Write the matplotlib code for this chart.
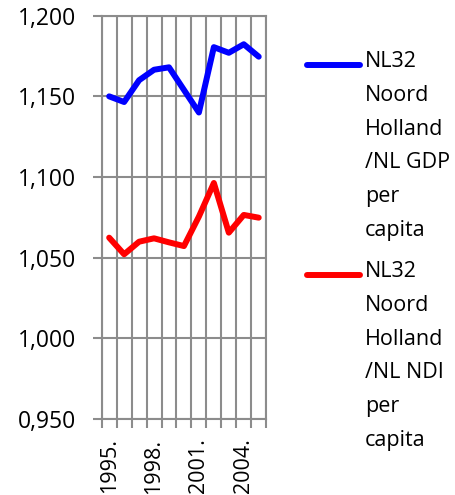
import matplotlib
matplotlib.use("Agg")
import matplotlib.pyplot as plt
from matplotlib.lines import Line2D

years = [1995, 1996, 1997, 1998, 1999, 2000, 2001, 2002, 2003, 2004, 2005]
gdp_ratio = [1.150, 1.1465, 1.160, 1.1665, 1.168, 1.154, 1.140, 1.1805, 1.177, 1.1823, 1.1746]
ndi_ratio = [1.0624, 1.0521, 1.0599, 1.062, 1.0595, 1.0572, 1.0755, 1.0963, 1.0655, 1.0765, 1.0748]
label_years = [1995, 1998, 2001, 2004]
gdp_label = "NL32\nNoord\nHolland\n/NL GDP\nper\ncapita"
ndi_label = "NL32\nNoord\nHolland\n/NL NDI\nper\ncapita"

plt.rcParams["font.family"] = ["Open Sans", "DejaVu Sans"]
plt.rcParams["font.size"] = 15.5

W, H = 455, 495
fig = plt.figure(figsize=(W / 100, H / 100), dpi=100)
ax = fig.add_axes([101.7 / W, 1 - 419 / H, 164.5 / W, (419 - 15.7) / H])

grid_c = "#8c8c8c"
ax.plot(years, gdp_ratio, color="#0000ff", lw=4.3, solid_capstyle="round", zorder=3)
ax.plot(years, ndi_ratio, color="#ff0000", lw=4.3, solid_capstyle="round", zorder=3)

ax.set_xlim(years[0] - 0.5, years[-1] + 0.5)
ax.set_ylim(0.95, 1.2)
yt = [0.95, 1.0, 1.05, 1.1, 1.15, 1.2]
ax.set_yticks(yt)
ax.set_yticklabels([f"{v:.3f}".replace(".", ",") for v in yt], fontsize=16.5)

ax.set_xticks([y - 0.5 for y in years] + [years[-1] + 0.5])
ax.set_xticklabels([])
ax.set_xticks(label_years, minor=True)
ax.set_xticklabels([f"{y}." for y in label_years], minor=True, rotation=90, fontsize=15.5)
ax.tick_params(axis="x", which="minor", length=0, pad=14)
ax.tick_params(axis="both", which="major", length=6.3, width=1.5, color=grid_c, direction="out")
ax.tick_params(axis="y", pad=12)

ax.grid(True, which="major", color=grid_c, lw=1.5)
ax.set_axisbelow(True)
for s in ax.spines.values():
    s.set_color(grid_c)
    s.set_linewidth(1.5)

# legend drawn at the right; text anchored on the baseline of its last line
for yline, last_base, color, lab in [(65, 236, "#0000ff", gdp_label), (275, 446, "#ff0000", ndi_label)]:
    fig.add_artist(Line2D([307 / W, 360 / W], [1 - yline / H] * 2, color=color,
                          lw=4.3, solid_capstyle="round"))
    fig.text(365 / W, 1 - last_base / H, lab, va="baseline", ha="left", linespacing=1.8)

fig.savefig("out.png", dpi=100)
